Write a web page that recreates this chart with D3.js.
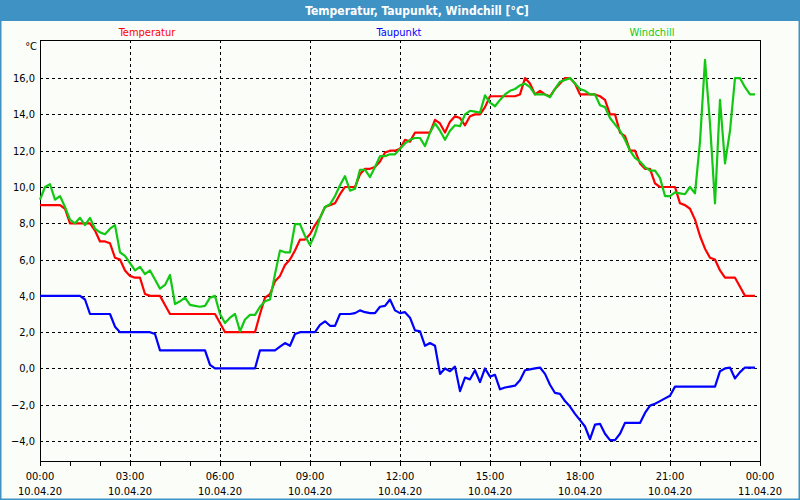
<!DOCTYPE html>
<html><head><meta charset="utf-8">
<script src="https://cdn.jsdelivr.net/npm/d3@7"></script>
<style>
html,body{margin:0;padding:0;background:#fff;}
svg{display:block;}
text{font-family:Tahoma,"DejaVu Sans Condensed","DejaVu Sans",sans-serif;}
</style></head>
<body>
<svg id="c" width="800" height="500"></svg>
<script>
// ---- data (10-minute samples, 10.04.20 00:00 .. 23:50) ----
const startTime = "2020-04-10T00:00:00";
const stepMinutes = 10;
const seriesNames = ["Temperatur", "Taupunkt", "Windchill"];
const seriesColors = ["#ff0000", "#0000ff", "#12c812"];
const temperatur = [
 9.0,9.0,9.0,9.0,9.0,8.8,8.0,8.0,8.0,8.0,
 8.0,7.6,7.0,7.0,6.9,6.1,6.0,5.4,5.1,5.0,
 5.0,4.1,4.0,4.0,4.0,3.5,3.0,3.0,3.0,3.0,
 3.0,3.0,3.0,3.0,3.0,3.0,2.5,2.0,2.0,2.0,
 2.0,2.0,2.0,2.0,3.0,3.9,4.1,4.8,5.1,5.7,
 6.0,6.5,7.1,7.1,7.4,7.9,8.3,8.9,9.0,9.1,
 9.6,10.0,10.0,10.0,10.7,11.0,11.0,11.1,11.4,11.9,
 12.0,12.0,12.1,12.6,12.5,13.0,13.0,13.0,13.0,13.7,
 13.5,13.0,13.6,13.9,13.8,13.4,13.9,14.0,14.0,14.4,
 15.0,15.0,15.0,15.0,15.0,15.0,15.1,16.0,15.7,15.1,
 15.3,15.1,15.0,15.4,15.7,16.0,16.0,15.7,15.1,15.1,
 15.1,15.1,15.0,14.8,14.0,14.0,13.0,12.8,12.0,12.0,
 11.3,11.0,11.0,10.2,10.0,10.0,10.0,10.0,9.1,9.0,
 8.8,8.2,7.3,6.6,6.1,6.0,5.4,5.0,5.0,5.0,
 4.5,4.0,4.0,4.0
];
const taupunkt = [
 4.0,4.0,4.0,4.0,4.0,4.0,4.0,4.0,4.0,3.8,
 3.0,3.0,3.0,3.0,3.0,2.3,2.0,2.0,2.0,2.0,
 2.0,2.0,2.0,1.9,1.0,1.0,1.0,1.0,1.0,1.0,
 1.0,1.0,1.0,1.0,0.2,0.0,0.0,0.0,0.0,0.0,
 0.0,0.0,0.0,0.0,1.0,1.0,1.0,1.0,1.2,1.4,
 1.25,1.9,2.0,2.0,2.0,2.0,2.4,2.6,2.35,2.35,
 3.0,3.0,3.0,3.05,3.2,3.1,3.05,3.05,3.4,3.45,
 3.8,3.2,3.05,3.1,2.8,2.1,2.05,1.25,1.4,1.25,
 -0.3,0.0,-0.15,0.1,-1.25,-0.5,-0.6,-0.1,-0.75,0.0,
 -0.45,-0.35,-1.15,-1.05,-1.0,-0.95,-0.65,-0.1,-0.05,0.0,
 0.05,-0.3,-0.9,-1.35,-1.4,-1.8,-2.1,-2.5,-2.85,-3.2,
 -3.9,-3.1,-3.05,-3.6,-3.95,-3.95,-3.6,-3.0,-3.0,-3.0,
 -3.0,-2.45,-2.05,-1.95,-1.8,-1.65,-1.5,-1.0,-1.0,-1.0,
 -1.0,-1.0,-1.0,-1.0,-1.0,-1.0,-0.15,0.0,0.05,-0.55,
 -0.2,0.05,0.05,0.05
];
const windchill = [
 9.3,10.0,10.15,9.3,9.5,8.9,8.2,8.0,8.3,7.9,
 8.3,7.7,7.5,7.4,7.7,7.9,6.4,6.2,5.8,5.4,
 5.6,5.2,5.4,4.9,4.4,4.6,5.15,3.55,3.7,3.9,
 3.5,3.45,3.4,3.45,3.9,4.0,3.0,2.5,2.8,3.0,
 2.05,2.7,2.95,2.95,3.4,3.7,3.8,5.2,6.5,6.4,
 6.4,7.95,7.95,7.3,6.8,7.4,8.3,8.9,9.05,9.5,
 10.1,10.6,9.8,9.9,10.95,10.95,10.55,11.1,11.7,11.7,
 11.8,11.8,12.1,12.4,12.6,12.7,12.7,12.25,13.0,13.5,
 13.1,12.6,13.1,13.4,13.35,14.0,14.2,14.15,14.1,15.05,
 14.65,14.45,14.8,15.1,15.3,15.4,15.6,15.7,15.5,15.1,
 15.1,15.1,14.95,15.4,15.8,15.9,16.0,15.7,15.4,15.3,
 15.1,15.1,14.5,14.4,13.8,13.45,13.1,12.6,12.0,11.6,
 11.4,11.1,10.9,10.9,10.5,9.5,9.5,9.7,9.65,9.6,
 10.0,9.65,12.5,17.0,13.5,9.1,14.8,11.3,13.1,16.0,
 16.0,15.5,15.1,15.1
];
const yTicks = [-4, -2, 0, 2, 4, 6, 8, 10, 12, 14, 16];
const xTickHours = [0, 3, 6, 9, 12, 15, 18, 21, 24];
const titleText = "Temperatur, Taupunkt, Windchill [°C]";
const unitText = "°C";

// ---- layout ----
const W = 800, H = 500;
const plot = {left: 40, right: 760, top: 40, bottom: 461};
const svg = d3.select("#c");

const t0 = new Date(startTime);
const t1 = d3.timeHour.offset(t0, 24);
const x = d3.scaleTime().domain([t0, t1]).range([plot.left, plot.right]);
const y = d3.scaleLinear().domain([-5.1, 18.1]).range([plot.bottom, plot.top]);

// background
svg.append("rect").attr("x",0).attr("y",0).attr("width",W).attr("height",H).attr("fill","#fbfdf9");
// title bar
svg.append("rect").attr("x",0).attr("y",0).attr("width",W).attr("height",21).attr("fill","#3f92c4");
svg.append("text").attr("x",417).attr("y",15).attr("text-anchor","middle")
  .attr("fill","#ffffff").attr("font-size","12px").attr("font-weight","bold").text(titleText);
// outer frame
svg.append("rect").attr("x",0.5).attr("y",0.5).attr("width",W-1).attr("height",H-1)
  .attr("fill","none").attr("stroke","#3f92c4").attr("stroke-width",2);

// legend
const legendX = [147, 399, 652];
seriesNames.forEach((n,i)=>{
  svg.append("text").attr("x",legendX[i]).attr("y",36).attr("text-anchor","middle")
    .attr("font-size","11px").attr("fill",seriesColors[i]).text(n);
});

// grid
const fmtNum = d3.format(".1f");
const g = svg.append("g").attr("shape-rendering","crispEdges");
yTicks.forEach(v=>{
  g.append("line").attr("x1",plot.left).attr("x2",plot.right)
    .attr("y1",Math.round(y(v))+0.5).attr("y2",Math.round(y(v))+0.5)
    .attr("stroke","#000").attr("stroke-dasharray","3,3");
});
xTickHours.slice(1,-1).forEach(h=>{
  const xx = Math.round(x(d3.timeHour.offset(t0,h)))+0.5;
  g.append("line").attr("x1",xx).attr("x2",xx).attr("y1",plot.top).attr("y2",plot.bottom)
    .attr("stroke","#000").attr("stroke-dasharray","3,3");
});

// y labels
const yAxis = d3.axisLeft(y).tickValues(yTicks).tickSize(0).tickPadding(5)
  .tickFormat(d => fmtNum(d).replace(".", ","));
const ya = svg.append("g").attr("transform",`translate(${plot.left},0)`).call(yAxis);
ya.select(".domain").remove();
ya.selectAll("text").attr("font-size","11px").attr("fill","#000")
  .attr("font-family",'Tahoma,"DejaVu Sans Condensed","DejaVu Sans",sans-serif');
svg.append("text").attr("x",37).attr("y",50).attr("text-anchor","end")
  .attr("font-size","11px").attr("fill","#000").text(unitText);

// x axis with hourly ticks
const xAxis = d3.axisBottom(x).ticks(d3.timeHour.every(1)).tickSize(5).tickFormat("");
const xa = svg.append("g").attr("transform",`translate(0,${plot.bottom})`)
  .attr("shape-rendering","crispEdges").call(xAxis);
xa.select(".domain").remove();
xa.selectAll("line").attr("stroke","#000");
const fmtTime = d3.timeFormat("%H:%M"), fmtDate = d3.timeFormat("%d.%m.%y");
xTickHours.forEach(h=>{
  const d = d3.timeHour.offset(t0,h);
  const xx = x(d);
  const tx = svg.append("text").attr("text-anchor","middle").attr("font-size","11px").attr("fill","#000");
  tx.append("tspan").attr("x",xx).attr("y",480).text(fmtTime(d));
  tx.append("tspan").attr("x",xx).attr("y",495).text(fmtDate(d));
});

// frame of plot
svg.append("rect").attr("x",plot.left+0.5).attr("y",plot.top+0.5)
  .attr("width",plot.right-plot.left).attr("height",plot.bottom-plot.top)
  .attr("fill","none").attr("stroke","#000").attr("shape-rendering","crispEdges");

// lines
const line = d3.line().x((d,i)=>x(d3.timeMinute.offset(t0,i*stepMinutes))).y(d=>y(d));
const drawOrder = [[taupunkt,1],[temperatur,0],[windchill,2]];
drawOrder.forEach(([arr,ci])=>{
  svg.append("path").datum(arr).attr("d",line).attr("fill","none")
    .attr("stroke",seriesColors[ci]).attr("stroke-width",2.2).attr("stroke-linejoin","round");
});
</script>
</body></html>
